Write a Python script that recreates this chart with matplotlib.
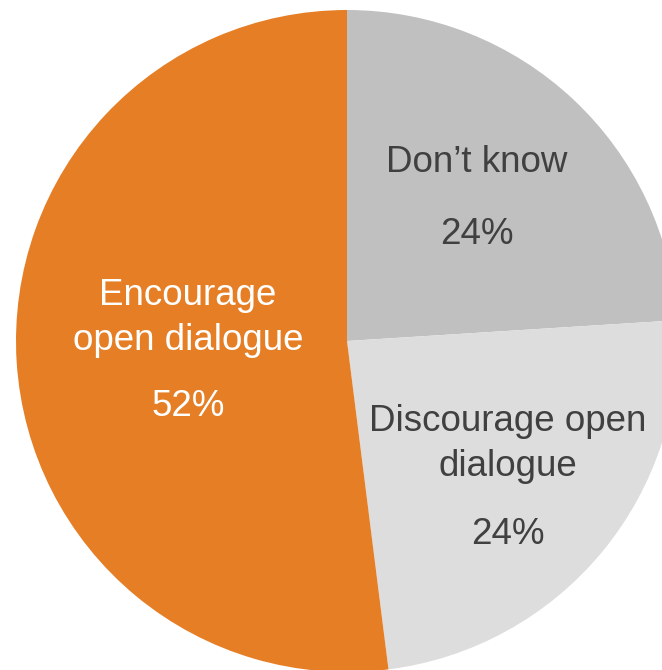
import matplotlib.pyplot as plt

# data
labels = ["Don\u2019t know", "Discourage open\ndialogue", "Encourage\nopen dialogue"]
values = [24, 24, 52]
colors = ["#BFC0BF", "#DCDDDC", "#E57E25"]
text_colors = ["#404040", "#404040", "#FFFFFF"]

plt.rcParams["font.family"] = ["Liberation Sans", "DejaVu Sans"]

fig = plt.figure(figsize=(6.62, 6.70), dpi=100)
ax = fig.add_axes([0, 0, 1, 1])

cx, cy, r = 347, 329, 331
wedges, _ = ax.pie(values, colors=colors, startangle=90, counterclock=False,
                   center=(cx, cy), radius=r, frame=True,
                   wedgeprops=dict(linewidth=0))
ax.set_xlim(0, 662)
ax.set_ylim(0, 670)
ax.set_aspect("equal")
ax.axis("off")

# label positions (pixel coords, y from bottom)
label_pos = [(477, 670 - 163), (508, 670 - 444), (188, 670 - 318)]
pct_pos = [(477, 670 - 234), (508, 670 - 534), (188, 670 - 406)]

for lab, v, tc, lp, pp in zip(labels, values, text_colors, label_pos, pct_pos):
    ax.text(lp[0], lp[1], lab, ha="center", va="center", fontsize=26.5,
            color=tc, linespacing=1.35)
    ax.text(pp[0], pp[1], f"{v}%", ha="center", va="center", fontsize=26.5,
            color=tc)

fig.savefig("out.png", dpi=100)
